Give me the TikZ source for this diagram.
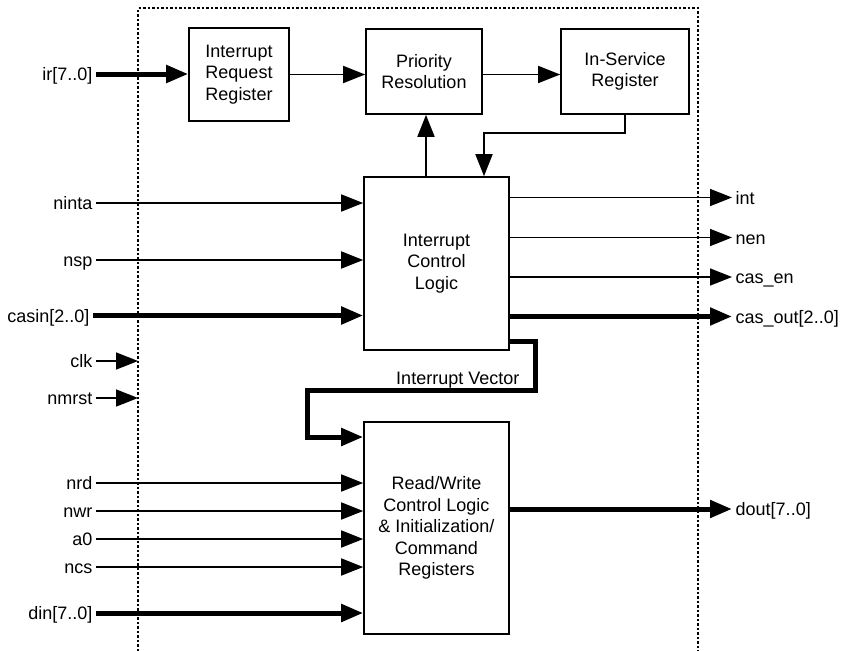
\documentclass[tikz,border=0pt]{standalone}
\usepackage{fontspec}
\setmainfont{Liberation Sans}
\usetikzlibrary{arrows.meta}
\begin{document}
\begin{tikzpicture}[x=1pt,y=-1pt,
  every node/.style={font=\fontsize{18}{21.5}\selectfont},
  blk/.style={draw, line width=1.6pt, align=center, inner sep=0pt},
  lbl/.style={inner xsep=3.5pt, inner ysep=0pt, text height=16.2pt, text depth=3.2pt},
  sig/.style={line width=1.7pt, -{Triangle[length=22pt,width=17pt]}},
  bus/.style={line width=5pt, line join=miter, -{Triangle[length=22pt,width=17pt]}},
  frame/.style={line width=1.3pt, dash pattern=on 2.5pt off 2pt}
]
\useasboundingbox (0,0) rectangle (852,651);
% frame
\coordinate (fA) at (138,651);
\coordinate (fB) at (138,8);
\coordinate (fC) at (698,8);
\coordinate (fD) at (698,651);
\draw[frame] (fA) -- (fB) -- (fC) -- (fD);
% blocks
\node[blk, minimum width=100pt, minimum height=93pt] (irr) at (239,74.5) {Interrupt\\Request\\Register};
\node[blk, minimum width=116pt, minimum height=85pt] (pr) at (424,71.5) {Priority\\Resolution};
\node[blk, minimum width=128pt, minimum height=85pt] (isr) at (625,71.5) {In-Service\\Register};
\node[blk, minimum width=145pt, minimum height=173pt] (icl) at (436.5,263.5) {Interrupt\\Control\\Logic};
\node[blk, minimum width=145pt, minimum height=212pt] (rw) at (436.5,528) {Read/Write\\Control Logic\\\& Initialization/\\Command\\Registers};
% left labels
\node[lbl, anchor=east] (lir) at (96,74) {ir[7..0]};
\node[lbl, anchor=east] (lninta) at (96,203) {ninta};
\node[lbl, anchor=east] (lnsp) at (96,260) {nsp};
\node[lbl, anchor=east] (lcasin) at (93,315.5) {casin[2..0]};
\node[lbl, anchor=east] (lclk) at (96,361) {clk};
\node[lbl, anchor=east] (lnmrst) at (96,398) {nmrst};
\node[lbl, anchor=east] (lnrd) at (96,483) {nrd};
\node[lbl, anchor=east] (lnwr) at (96,511) {nwr};
\node[lbl, anchor=east] (la0) at (96,539) {a0};
\node[lbl, anchor=east] (lncs) at (96,567) {ncs};
\node[lbl, anchor=east] (ldin) at (96,613) {din[7..0]};
% right labels
\node[lbl, anchor=west] (lint) at (732,197.5) {int};
\node[lbl, anchor=west] (lnen) at (732,237.5) {nen};
\node[lbl, anchor=west] (lcasen) at (732,277) {cas\_en};
\node[lbl, anchor=west] (lcasout) at (732,316.5) {cas\_out[2..0]};
\node[lbl, anchor=west] (ldout) at (732,509) {dout[7..0]};
% top chain
\draw[bus] (lir.east) -- (irr.west |- lir.east);
\draw[sig] (irr.east) -- (irr.east -| pr.west);
\draw[sig] (pr.east |- irr.east) -- (isr.west |- irr.east);
\coordinate (up) at (426,0);
\draw[sig] (icl.north -| up) -- (pr.south -| up);
\coordinate (fb) at (484,133);
\draw[sig] (isr.south) |- (fb) -- (fb |- icl.north);
% ICL inputs
\draw[sig] (lninta.east) -- (icl.west |- lninta.east);
\draw[sig] (lnsp.east) -- (icl.west |- lnsp.east);
\draw[bus] (lcasin.east) -- (icl.west |- lcasin.east);
% clk, nmrst
\draw[sig] (lclk.east) -- (lclk.east -| fB);
\draw[sig] (lnmrst.east) -- (lnmrst.east -| fB);
% ICL outputs
\draw[sig] (icl.east |- lint.west) -- (lint.west);
\draw[sig] (icl.east |- lnen.west) -- (lnen.west);
\draw[sig] (icl.east |- lcasen.west) -- (lcasen.west);
\draw[bus] (icl.east |- lcasout.west) -- (lcasout.west);
% interrupt vector
\coordinate (iv1) at (535,341);
\coordinate (ivm) at (0,390);
\coordinate (iv2) at (307,437);
\draw[bus] (icl.east |- iv1) -- (iv1) -- (iv1 |- ivm) -- (iv2 |- ivm) -- (iv2) -- (rw.west |- iv2);
\node[lbl, anchor=east] (ivl) at (523,378) {Interrupt Vector};
% RW inputs
\draw[sig] (lnrd.east) -- (rw.west |- lnrd.east);
\draw[sig] (lnwr.east) -- (rw.west |- lnwr.east);
\draw[sig] (la0.east) -- (rw.west |- la0.east);
\draw[sig] (lncs.east) -- (rw.west |- lncs.east);
\draw[bus] (ldin.east) -- (rw.west |- ldin.east);
% RW output
\draw[bus] (rw.east |- ldout.west) -- (ldout.west);
\end{tikzpicture}
\end{document}
